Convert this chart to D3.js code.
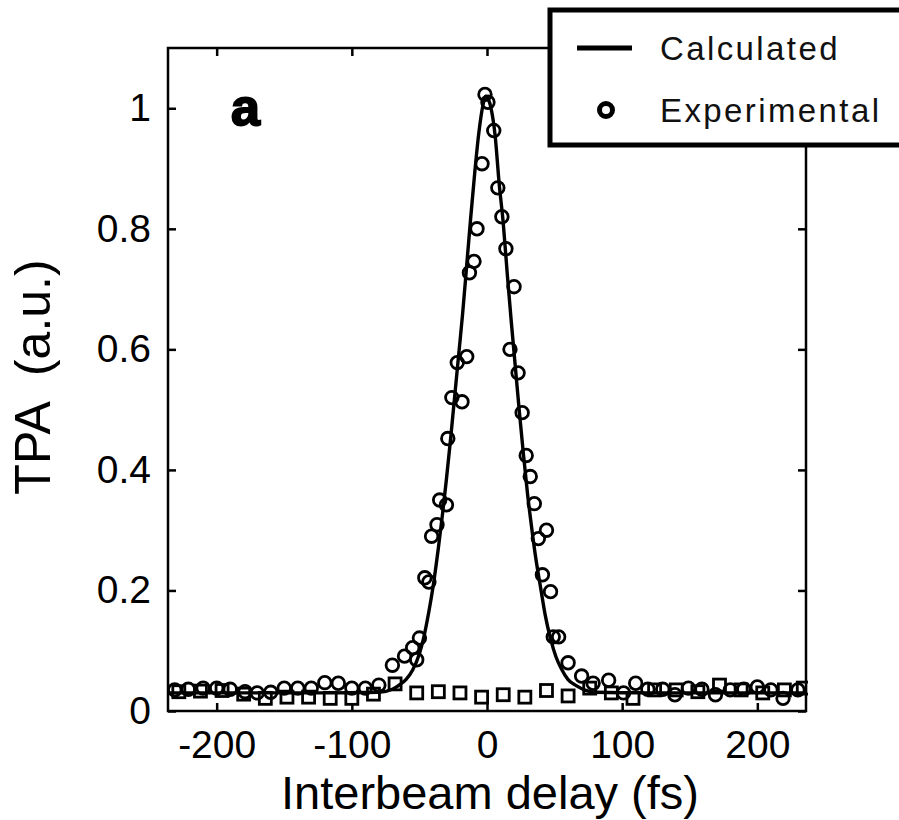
<!DOCTYPE html>
<html><head><meta charset="utf-8">
<script src="https://cdn.jsdelivr.net/npm/d3@7"></script>
<style>body{margin:0;background:#fff}</style>
</head><body>
<svg id="c" width="899" height="820"></svg>
<script>
const xTicks = [-200, -100, 0, 100, 200];
const xTickLabels = ["-200", "-100", "0", "100", "200"];
const yTicks = [0, 0.2, 0.4, 0.6, 0.8, 1];
const yTickLabels = ["0", "0.2", "0.4", "0.6", "0.8", "1"];

const calcX = [-236,-120,-80,-70,-65,-60,-55,-50,-47,-43,-40,-36,-33,-30,-27,-24,-21,-18,-15,-12,-9,-6,-3,-1,1,3,6,9,12,15,18,21,24,27,30,33,36,40,43,47,51,55,60,66,72,80,120,236];
const calcY = [0.03,0.03,0.031,0.036,0.043,0.052,0.068,0.095,0.12,0.165,0.205,0.27,0.325,0.385,0.45,0.52,0.59,0.66,0.74,0.82,0.895,0.96,1.005,1.02,1.015,1.0,0.955,0.875,0.81,0.725,0.645,0.57,0.495,0.425,0.36,0.305,0.255,0.20,0.16,0.12,0.09,0.07,0.052,0.042,0.035,0.031,0.03,0.03];

const expX = [-231,-221,-210,-200,-190,-179,-170,-160,-150,-140,-130,-120,-110,-100,-90,-80,-70,-61,-55,-52,-50,-46,-43,-41,-37,-35,-30,-29,-26,-22,-18.5,-15,-13,-9.6,-7.4,-3.7,-1.5,0.7,5,8,11,14,17,20,23,26,29,32,35,38,41,44,47,49,53,60,70,78.5,90,101,110,119,130,139,149,159,169,180,190,200,210,219,230];
const expY = [0.035,0.036,0.038,0.038,0.036,0.032,0.030,0.031,0.038,0.038,0.038,0.047,0.046,0.038,0.038,0.043,0.076,0.091,0.105,0.085,0.121,0.221,0.214,0.29,0.309,0.35,0.342,0.452,0.52,0.578,0.513,0.588,0.727,0.746,0.80,0.908,1.023,1.01,0.963,0.868,0.82,0.767,0.60,0.704,0.561,0.495,0.424,0.389,0.344,0.286,0.226,0.30,0.198,0.123,0.123,0.08,0.058,0.046,0.051,0.03,0.046,0.036,0.036,0.027,0.038,0.036,0.027,0.035,0.036,0.04,0.035,0.021,0.035];

const refX = [-228,-212,-196,-180,-164,-148,-132,-116,-100,-84,-68,-52,-36,-20,-4,12,28,44,60,76,92,108,124,140,156,172,188,204,220,234];
const refY = [0.032,0.033,0.034,0.028,0.021,0.023,0.023,0.021,0.021,0.028,0.045,0.030,0.032,0.030,0.023,0.027,0.023,0.034,0.025,0.038,0.030,0.021,0.035,0.035,0.032,0.043,0.035,0.030,0.035,0.038];

const legendLabels = ["Calculated", "Experimental"];

const svg = d3.select("#c");
const L = 168, R = 806, T = 48, B = 711;
const x = d3.scaleLinear().domain([-236, 236]).range([L, R]);
const y = d3.scaleLinear().domain([0, 1.1]).range([B, T]);

const font = "'Liberation Sans', Arial, sans-serif";

svg.append("defs").append("clipPath").attr("id", "clip")
  .append("rect").attr("x", L - 2).attr("y", T).attr("width", R - L + 4).attr("height", B - T);

const plot = svg.append("g").attr("clip-path", "url(#clip)");

// reference squares
plot.selectAll("rect.sq").data(refX.map((d, i) => [d, refY[i]])).enter()
  .append("rect").attr("class", "sq")
  .attr("x", d => x(d[0]) - 6).attr("y", d => y(d[1]) - 6)
  .attr("width", 12).attr("height", 12)
  .attr("fill", "none").attr("stroke", "#000").attr("stroke-width", 2.8);

// calculated line
const line = d3.line().x(d => x(d[0])).y(d => y(d[1])).curve(d3.curveMonotoneX);
plot.append("path").datum(calcX.map((d, i) => [d, calcY[i]]))
  .attr("d", line).attr("fill", "none").attr("stroke", "#000").attr("stroke-width", 3.4);

// experimental circles
plot.selectAll("circle.e").data(expX.map((d, i) => [d, expY[i]])).enter()
  .append("circle").attr("class", "e")
  .attr("cx", d => x(d[0])).attr("cy", d => y(d[1])).attr("r", 6.3)
  .attr("fill", "none").attr("stroke", "#000").attr("stroke-width", 2.8);

// axes
const ax = svg.append("g").attr("font-family", font);
const gB = ax.append("g").attr("transform", `translate(0,${B})`)
  .call(d3.axisBottom(x).tickValues(xTicks).tickSize(-8).tickPadding(19).tickFormat((d, i) => xTickLabels[i]));
const gT = ax.append("g").attr("transform", `translate(0,${T})`)
  .call(d3.axisTop(x).tickValues(xTicks).tickSize(-8).tickFormat(""));
const gL = ax.append("g").attr("transform", `translate(${L},0)`)
  .call(d3.axisLeft(y).tickValues(yTicks).tickSize(-8).tickPadding(17).tickFormat((d, i) => yTickLabels[i]));
const gR = ax.append("g").attr("transform", `translate(${R},0)`)
  .call(d3.axisRight(y).tickValues(yTicks).tickSize(-8).tickFormat(""));
[gB, gT, gL, gR].forEach(g => {
  g.select(".domain").remove();
  g.selectAll(".tick line").attr("stroke", "#000").attr("stroke-width", 2.5);
  g.selectAll(".tick text").attr("font-size", 39).attr("fill", "#000").attr("font-family", font);
});

// frame
svg.append("rect").attr("x", L).attr("y", T).attr("width", R - L).attr("height", B - T)
  .attr("fill", "none").attr("stroke", "#000").attr("stroke-width", 2.5);

// axis titles
svg.append("text").attr("x", (L + R) / 2 + 3).attr("y", 809).attr("text-anchor", "middle")
  .attr("font-family", font).attr("font-size", 47).text("Interbeam delay (fs)");
svg.append("text").attr("transform", "translate(50,377) rotate(-90)").attr("text-anchor", "middle")
  .attr("font-family", font).attr("font-size", 50).style("white-space", "pre").text("TPA  (a.u.)");

// panel label
svg.append("text").attr("x", 231).attr("y", 125).attr("font-family", font)
  .attr("font-weight", "bold").attr("font-size", 52).attr("stroke", "#000").attr("stroke-width", 2).text("a");

// legend
const lg = svg.append("g");
lg.append("rect").attr("x", 550).attr("y", 10).attr("width", 370).attr("height", 135)
  .attr("fill", "#fff").attr("stroke", "#000").attr("stroke-width", 5);
lg.append("line").attr("x1", 577).attr("x2", 632).attr("y1", 48).attr("y2", 48)
  .attr("stroke", "#000").attr("stroke-width", 5);
lg.append("circle").attr("cx", 606).attr("cy", 110).attr("r", 6.5)
  .attr("fill", "none").attr("stroke", "#000").attr("stroke-width", 5);
lg.selectAll("text").data(legendLabels).enter().append("text")
  .attr("x", 660).attr("y", (d, i) => i === 0 ? 60 : 122)
  .attr("font-family", font).attr("font-size", 33).attr("letter-spacing", 2.4)
  .attr("fill", "#111").text(d => d);
</script>
</body></html>
